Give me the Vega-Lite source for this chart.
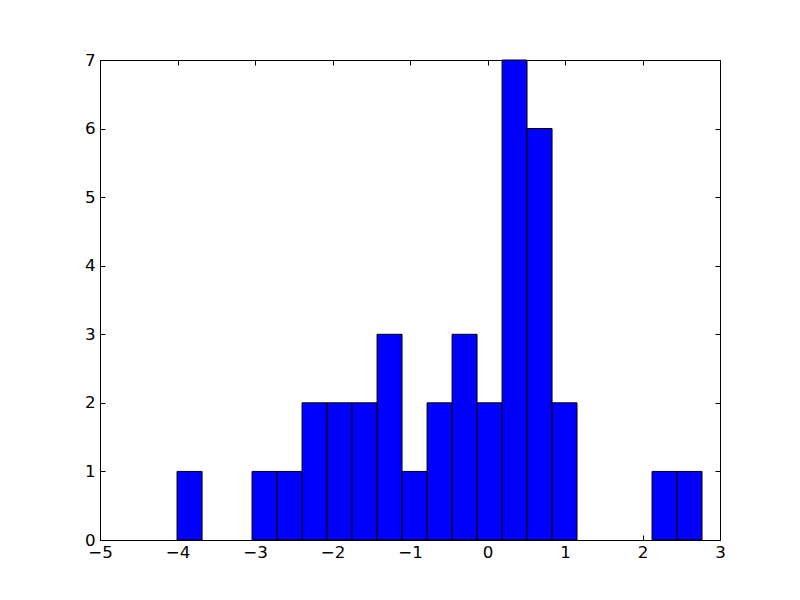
{
  "$schema": "https://vega.github.io/schema/vega-lite/v6.json",
  "width": 620,
  "height": 480,
  "autosize": {"type": "none"},
  "padding": {"left": 100, "top": 60, "right": 80, "bottom": 60},
  "background": "white",
  "config": {
    "view": {"stroke": "black", "strokeWidth": 1},
    "axis": {
      "grid": false,
      "domain": false,
      "tickColor": "black",
      "tickSize": -5,
      "labelFont": "DejaVu Sans",
      "labelFontSize": 16.7,
      "labelColor": "black",
      "labelFlush": false,
      "labelOverlap": false,
      "title": null
    }
  },
  "data": {
    "values": [
      {"start": -4.006, "end": -3.683, "count": 1},
      {"start": -3.038, "end": -2.716, "count": 1},
      {"start": -2.716, "end": -2.393, "count": 1},
      {"start": -2.393, "end": -2.070, "count": 2},
      {"start": -2.070, "end": -1.748, "count": 2},
      {"start": -1.748, "end": -1.425, "count": 2},
      {"start": -1.425, "end": -1.103, "count": 3},
      {"start": -1.103, "end": -0.780, "count": 1},
      {"start": -0.780, "end": -0.457, "count": 2},
      {"start": -0.457, "end": -0.135, "count": 3},
      {"start": -0.135, "end": 0.188, "count": 2},
      {"start": 0.188, "end": 0.510, "count": 7},
      {"start": 0.510, "end": 0.833, "count": 6},
      {"start": 0.833, "end": 1.155, "count": 2},
      {"start": 2.123, "end": 2.446, "count": 1},
      {"start": 2.446, "end": 2.768, "count": 1}
    ]
  },
  "resolve": {"axis": {"x": "independent", "y": "independent"}},
  "layer": [
    {
      "mark": {"type": "bar", "color": "#0000ff", "stroke": "black", "strokeWidth": 1},
      "encoding": {
        "x": {"field": "start", "type": "quantitative", "scale": {"domain": [-5, 3], "nice": false, "zero": false},
              "axis": {"values": [-5, -4, -3, -2, -1, 0, 1, 2, 3], "format": "d", "labelPadding": 9}},
        "x2": {"field": "end"},
        "y": {"field": "count", "type": "quantitative", "scale": {"domain": [0, 7], "nice": false},
              "axis": {"values": [0, 1, 2, 3, 4, 5, 6, 7], "format": "d", "labelPadding": 10}},
        "y2": {"datum": 0}
      }
    },
    {
      "mark": {"type": "point", "opacity": 0},
      "encoding": {
        "x": {"field": "start", "type": "quantitative", "axis": {"orient": "top", "values": [-5, -4, -3, -2, -1, 0, 1, 2, 3], "labels": false}},
        "y": {"field": "count", "type": "quantitative", "axis": {"orient": "right", "values": [0, 1, 2, 3, 4, 5, 6, 7], "labels": false}}
      }
    }
  ]
}
